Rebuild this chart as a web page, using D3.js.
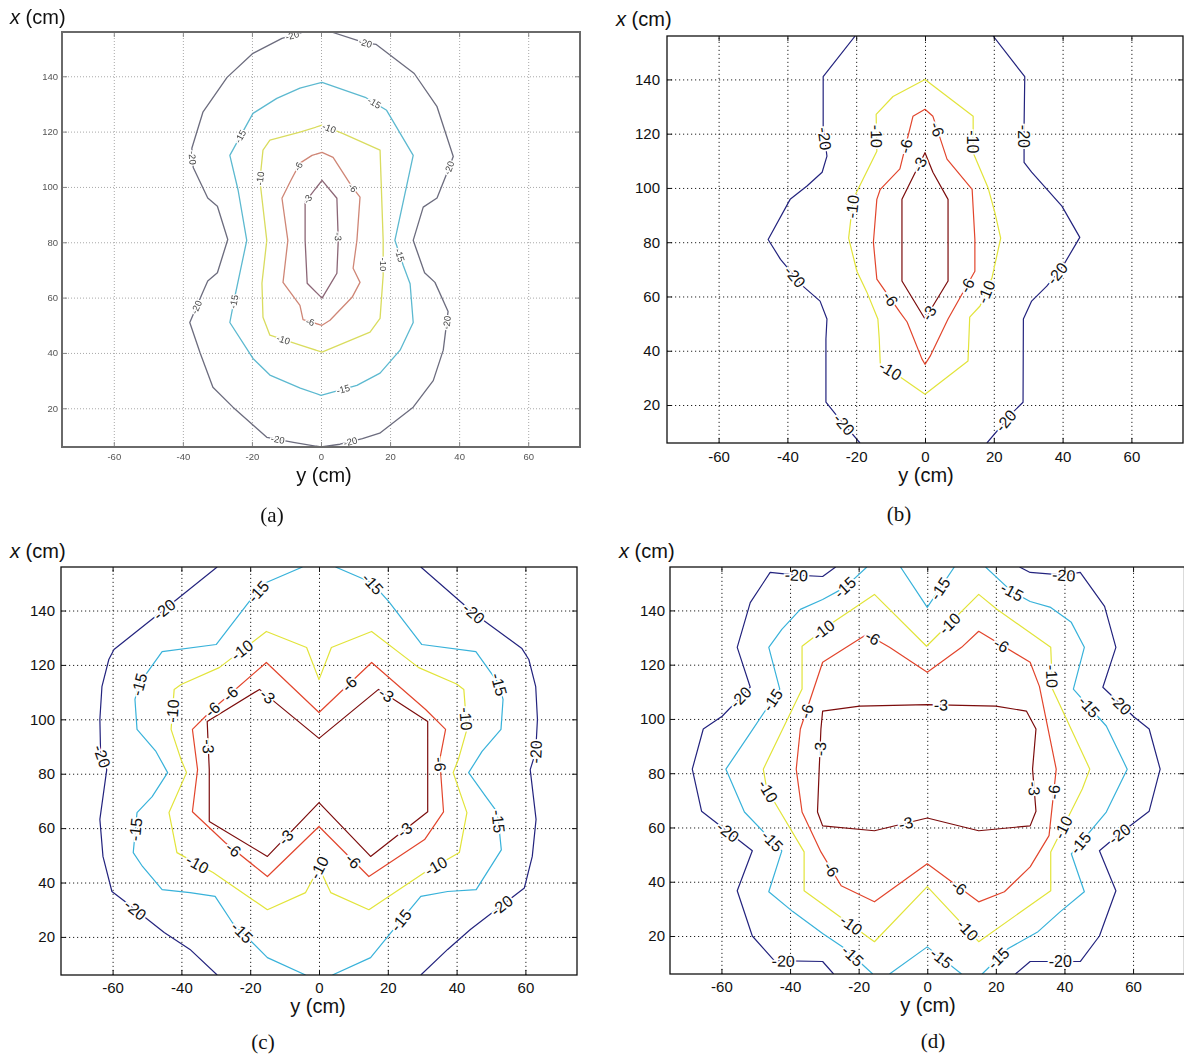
<!DOCTYPE html>
<html>
<head>
<meta charset="utf-8">
<script src="https://cdn.jsdelivr.net/npm/d3@7"></script>
<style>
  body { margin: 0; background: #fff; }
</style>
</head>
<body>
<svg id="fig" width="1184" height="1056"></svg>
<script>
// ---------- shared axes ----------
const hDomain = [-75, 75];          // y (cm), horizontal
const vDomain = [6, 156];           // x (cm), vertical
const yTicks = [-60, -40, -20, 0, 20, 40, 60];
const xTicks = [20, 40, 60, 80, 100, 120, 140];

// ---------- panel (a): contour polylines, [y, x] ----------
const aC20 = [[3,156],[13,152],[16,151.5],[27,141],[33.6,129],[38.3,111],[36.8,106],[33.6,96],[29.6,92.7],[26.7,80.7],[30,69],[33,65.5],[36.8,55],[35.4,41],[32.5,30],[26.7,20.4],[17,11],[12,9],[5.5,7],[0,6],[-8,7.7],[-15.7,9.5],[-25.5,20.4],[-31.3,27.6],[-35,40],[-38,51],[-34.2,62],[-32.8,66],[-30,69],[-27,81],[-30,93],[-32.8,96],[-37,107],[-37.4,114],[-34.2,127],[-27.2,139.6],[-19.7,148.3],[-11.3,153.7],[-5,156]];
const aC15 = [[0.3,137.8],[12.8,132.4],[19,127.7],[26.7,111.4],[21.4,80.7],[23.8,71.7],[25.8,65],[26.7,51],[22.9,41],[17.1,32.7],[10.4,28.3],[0,24.7],[-6,27.3],[-14.8,32],[-19.7,38],[-26.4,51],[-25,60],[-21.5,80.7],[-24,98.8],[-26.4,111.4],[-19.7,126.6],[-12.8,132],[-6.1,135.7]];
const aC10 = [[0.3,122.3],[6.4,119.3],[17.1,113.3],[18,80.7],[18,68],[17.1,52.5],[14.2,47.5],[0.3,40.3],[-6,42.8],[-14.8,46.4],[-16.8,52.9],[-17.1,65.2],[-15.7,80.7],[-17.7,102.4],[-16.8,113.3],[-14.8,116.9],[-6.1,119.8]];
const aC6 = [[0.3,112.5],[3.5,110.7],[9,100],[11.3,96.3],[10.4,80.7],[9.3,70.6],[11.3,65.5],[9,60.1],[2.6,51.8],[0.3,50],[-5.2,52],[-6.1,57.2],[-11,65.5],[-9.6,80.7],[-11.3,95.9],[-9,101.7],[-6.1,108.6],[-2.6,111.4]];
const aC3 = [[0.3,102.4],[4.6,95.9],[5,80.7],[4.6,68.8],[0.3,59.8],[-4,65.2],[-4.6,80.7],[-4.6,94.5]];
// labels: [level, y, x]
const aLabels = [[-20,-8.4,155],[-20,12.8,152],[-20,36.8,107],[-20,36.3,51],[-20,8.5,8],[-20,-12.5,9],[-20,-36,56.5],[-20,-37.5,110.5],
  [-15,15,129.5],[-15,22,75],[-15,6.4,27],[-15,-25,58.5],[-15,-23,118],
  [-10,2.3,121],[-10,16.5,72],[-10,-11,44.6],[-10,-17.3,103],
  [-6,-5.5,106.7],[-6,9,99.5],[-6,-3.2,51],[-3,-4.3,96],[-3,4.4,82]];

// ---------- panel (b) ----------
const bC20L = [[-20.3,156],[-29.6,141],[-29.6,122.7],[-28.5,111.7],[-29.9,105.8],[-34.3,100.7],[-39.2,95.8],[-45.6,81],[-42,73.7],[-35.5,63.8],[-30.5,58.3],[-28.5,51.7],[-28.8,44.3],[-28.8,21.1],[-25.6,16],[-18.9,6]];
const bC20R = [[19.8,156],[29,141],[28.8,122.7],[28.8,109.4],[31,105.8],[39.8,93.3],[45,81.8],[40,71],[35.4,63.8],[31,58.3],[28.6,51.7],[28.5,21],[25.6,17.4],[18,6]];
const bC10 = [[0,140],[14,126.4],[14,113],[18.3,100.2],[20.3,91],[22,81.5],[19.5,67],[16,56.5],[13,52.4],[12.5,36.2],[0,24],[-9.3,32.2],[-13,35],[-13.3,44.3],[-13.7,51.7],[-16.9,61.6],[-19.8,69.3],[-22.2,81.5],[-20.9,95.8],[-14,113.5],[-14.2,127.1],[-9.3,133.7]];
const bC6 = [[0,129],[-3.5,126.4],[-7.3,107],[-13,99.5],[-14,95.8],[-15,80],[-14,66.4],[-7.3,54.2],[-5.2,50.6],[-0.9,37],[0,35],[1.5,38],[6.7,51.7],[14.5,69.3],[14.5,81],[13.7,99.5],[6.4,110.6],[2.3,126.4]];
const bC3 = [[0,113],[-6.7,95.8],[-6.7,65.7],[0,51.7],[6.7,65.7],[6.7,95.8],[2.3,105.8]];
const bLabels = [[-20,-30,118],[-20,-38.7,66.4],[-20,-24.1,12.3],[-20,29.6,119],[-20,38.4,68.5],[-20,23.8,13.8],
  [-10,14.5,117],[-10,18,61.6],[-10,-10.2,32.5],[-10,-20.3,93],[-10,-15.4,119],
  [-6,-5.2,115.3],[-6,3.5,121.6],[-6,-11,58.3],[-6,12.5,63.8],[-3,-0.5,108],[-3,1,54]];

// ---------- panel (c) ----------
const cC20L = [[-29.6,156],[-45,140.4],[-59.6,125.7],[-61.1,122],[-63.1,112],[-63.7,100],[-63.5,88],[-61.7,81.5],[-63.7,63.2],[-62.8,49.6],[-60.2,36.7],[-56.4,33],[-45,21.6],[-37.5,15.4],[-29.6,6]];
const cC20R = [[29.6,156],[45,139],[59,126],[61,122],[63,112],[63.5,100],[63,88],[61.4,81.5],[63.1,63.2],[62,49.6],[59.7,38],[56.4,34.8],[44,22.7],[37.4,15.4],[29.6,6]];
const cC15L = [[-4.8,156],[-15.3,150.3],[-20.3,143.3],[-29.9,127.5],[-45.6,124.9],[-52.3,113],[-53.5,107.3],[-52.9,96.3],[-47.4,88.2],[-44,80.4],[-48.5,71.6],[-52.9,65.7],[-54,51],[-51.3,45.9],[-45.6,37.4],[-37.5,36.3],[-30.2,34.9],[-25.2,25.3],[-15,12.4],[-3.9,6]];
const cC15R = [[4.8,156],[15.3,150.3],[20.3,143.3],[29.9,127.5],[45.6,124.9],[52.3,113],[53.5,107.3],[52.9,96.3],[47.4,88.2],[43.5,80.4],[48.5,71.6],[51.9,65.7],[53,52],[45.7,37.4],[37.4,36.7],[29.6,34.9],[24,26.4],[15,12.4],[3.9,6]];
const cC10 = [[-15.3,132.3],[-29,119],[-40.1,112.8],[-42.1,111],[-43,96.3],[-40.1,85.2],[-38.5,80.4],[-43.6,65.7],[-41.3,51],[-30.8,43.7],[-15,30],[-3.9,36.3],[0,45.5],[3.4,36.3],[14.5,30],[30.7,43.7],[40.8,51],[43,65.7],[39,80.4],[40.5,85.2],[43,96.3],[42.1,111],[40,113],[29,119],[15.3,132.3],[3.6,126.4],[0,114.6],[-3.6,126.4]];
const cC6 = [[-15.3,120.9],[-31,103.6],[-36.8,96.3],[-35.3,81.5],[-36.8,66],[-27.3,54.7],[-15,42.2],[0,60.6],[14.5,42.2],[30.7,55.8],[36.2,66],[35.1,85.2],[36.8,96.3],[31,103.6],[15.3,120.9],[0,102.5]];
const cC3 = [[-17.3,111],[-32.5,99.2],[-31.9,81.5],[-31.9,62.4],[-15,49.6],[0,69.4],[15,49.6],[31.6,66],[31.6,85.2],[31.6,99.2],[17.3,111],[0,93]];
const cLabels = [[-20,-45,140.4],[-20,-64,86],[-20,-54,29],[-20,45,139],[-20,63.5,88],[-20,54,30],
  [-15,-16.8,146],[-15,-52.3,112.8],[-15,-52.9,59.5],[-15,-22.9,21],[-15,14,148],[-15,52.3,112.8],[-15,51.9,62.4],[-15,24.6,25.3],
  [-10,-21.4,123.8],[-10,-42.1,103],[-10,-35.1,47.4],[-10,0.5,49],[-10,33.4,47.4],[-10,41,100],
  [-6,-26.1,109.9],[-6,-31,103.6],[-6,-26.1,50.3],[-6,9.5,47.4],[-6,8.9,112.8],[-6,34.5,83.4],
  [-3,-14,110],[-3,-32.8,90],[-3,-10,57],[-3,25.2,58.8],[-3,18.5,107]];

// ---------- panel (d) ----------
const dC20L = [[-26.7,156],[-30.5,152.5],[-38.2,153],[-45.8,154],[-51.6,142.9],[-55.4,126.4],[-51.6,111.7],[-59.8,101],[-65.3,96.3],[-68.5,81.5],[-65.8,66],[-58.1,58.4],[-51,51.4],[-55.4,36.7],[-51,20],[-44.6,10.9],[-30.5,10.6],[-27.3,6]];
const dC20R = [[26.9,156],[30,154],[39.8,153],[44.6,154],[51.7,141.5],[55,126.4],[51.2,111.7],[60.3,100.7],[64.7,96.3],[67.9,81.5],[64.7,66],[56,57.6],[50.2,51.4],[55,36.7],[50.2,20],[44.6,10.6],[30,10.6],[25.7,6]];
const dC15L = [[-17.6,156],[-24,148.5],[-30.5,144],[-37,140.4],[-42.4,133],[-46.2,126.4],[-43,111],[-52.2,93.7],[-58.7,81.5],[-53.3,65.7],[-42.4,51.4],[-46.2,36.3],[-39.2,29],[-30.5,20.9],[-24,15.4],[-15.9,6]];
const dC15T = [[-7.8,156],[0,141.1],[7.9,156]];
const dC15R = [[17,156],[24.6,147],[30,143.3],[36,141.1],[42,135.6],[45.8,126.4],[42.6,111],[52.2,97.4],[58.3,81.5],[52.2,65.7],[42,50.3],[45.8,36.3],[38.8,29],[32.3,21.6],[23.6,15.4],[16,6]];
const dC15B = [[-11,6],[0,16],[10,6]];
const dC10 = [[-15.4,145.9],[-0.2,126.8],[15,145.9],[20.3,140.4],[36,126.4],[36.5,111],[47.4,81.5],[45.2,74.2],[36,51],[36,36.7],[15,17.9],[0,38.2],[-15.4,17.9],[-35.9,36.7],[-35.9,51],[-46.8,74.2],[-47.8,81.5],[-36.5,111],[-36.5,126.8],[-27,136]];
const dC6 = [[-17.6,131.2],[-11,126.4],[0,117.2],[10,126.4],[15,132.3],[30,120.9],[32.7,112],[37.6,81.5],[35.5,57],[30,45.5],[22.5,36.3],[15,32.6],[0,46.6],[-15.4,32.6],[-25.1,38.5],[-31,51],[-36.5,65.7],[-38.2,81.5],[-37,96.3],[-30.5,120.9]];
const dC3 = [[-30.5,102.9],[-19.7,104.7],[0,105.3],[20,104.7],[28.9,102.9],[31.7,96.3],[30.7,81.5],[31.7,66],[30,60.6],[15,58.8],[0,63.5],[-15.4,58.8],[-30.5,60.6],[-32,65.7],[-31.5,81.5],[-31,96.3]];
const dLabels = [[-20,-38.2,152.5],[-20,-53.9,107.3],[-20,-58.1,58.4],[-20,-42,10],[-20,39.8,152.5],[-20,55.5,104.3],[-20,56,57.6],[-20,38.8,10.6],
  [-15,-24,148.5],[-15,-44.6,106.5],[-15,-45.2,55],[-15,-22.5,11.7],[-15,4.1,147.7],[-15,24.6,146.6],[-15,45.8,102.9],[-15,44,55],[-15,20.8,11.7],[-15,3.6,11],
  [-10,-30,132.3],[-10,6.8,134.8],[-10,37,115.7],[-10,40.4,59.5],[-10,11.2,21.6],[-10,-23,22.7],[-10,-46.2,73.5],
  [-6,-15.9,130],[-6,21.4,126.8],[-6,37.6,73],[-6,9,37.4],[-6,-30,43],[-6,-34.4,102.5],
  [-3,4,104.5],[-3,30,74.2],[-3,-6.2,61.3],[-3,-32.7,89]];

// =========================
// STYLES
// =========================
const styleA = {
  colors: { "-20": "#6c6c7e", "-15": "#5cb9d0", "-10": "#d9dc5e", "-6": "#cf8676", "-3": "#8c6676" },
  lw: 1.3, tickSize: 9.5, tickFamily: "'Liberation Sans Narrow', 'Liberation Sans', Arial, sans-serif",
  tickFill: "#555", labelSize: 9.5, labelFill: "#444", halo: 2.5,
  grid: "#a8a8a8", gridDash: "1,2", frame: "#6a6a6a", frameW: 2, tickColor: "#888", blur: true
};
const styleB = {
  colors: { "-20": "#23237e", "-15": "#38b2da", "-10": "#e2e43a", "-6": "#e2452c", "-3": "#7c0c0c" },
  lw: 1.2, tickSize: 15, tickFamily: "'Liberation Sans', Arial, sans-serif",
  tickFill: "#111", labelSize: 16, labelFill: "#111", halo: 3.5,
  grid: "#222", gridDash: "1.2,2.8", frame: "#111", frameW: 1.3, tickColor: "#111", blur: false
};

const svg = d3.select("#fig");
const defs = svg.append("defs");
defs.append("filter").attr("id", "soft")
  .append("feGaussianBlur").attr("stdDeviation", 0.4);

const panels = [
  { id: "a", left: 62, right: 580, top: 32, bottom: 447, S: styleA, padX: 6, padY: 4,
    contours: [[-20, aC20, true], [-15, aC15, true], [-10, aC10, true], [-6, aC6, true], [-3, aC3, true]],
    labels: aLabels, xt: [10, 24], yt: [324, 482], tag: [272, 522, "(a)"] },
  { id: "b", left: 667, right: 1183, top: 36, bottom: 443, S: styleB, padX: 8, padY: 7,
    contours: [[-20, bC20L, false], [-20, bC20R, false], [-10, bC10, true], [-6, bC6, true], [-3, bC3, true]],
    labels: bLabels, xt: [616, 26], yt: [926, 482], tag: [899, 521, "(b)"] },
  { id: "c", left: 61, right: 577, top: 567, bottom: 975, S: styleB, padX: 7, padY: 6,
    contours: [[-20, cC20L, false], [-20, cC20R, false], [-15, cC15L, false], [-15, cC15R, false],
               [-10, cC10, true], [-6, cC6, true], [-3, cC3, true]],
    labels: cLabels, xt: [10, 558], yt: [318, 1013], tag: [263, 1049, "(c)"] },
  { id: "d", left: 670, right: 1184.5, top: 567, bottom: 974, S: styleB, padX: 7, padY: 5,
    contours: [[-20, dC20L, false], [-20, dC20R, false], [-15, dC15L, false], [-15, dC15T, false],
               [-15, dC15R, false], [-15, dC15B, false], [-10, dC10, true], [-6, dC6, true], [-3, dC3, true]],
    labels: dLabels, xt: [619, 558], yt: [928, 1012], tag: [933, 1048, "(d)"] }
];

panels.forEach(drawPanel);

function drawPanel(p) {
  const S = p.S;
  const g = svg.append("g").attr("class", "panel-" + p.id);
  if (S.blur) g.attr("filter", "url(#soft)");

  const sx = d3.scaleLinear().domain(hDomain).range([p.left, p.right]);
  const sy = d3.scaleLinear().domain(vDomain).range([p.bottom, p.top]);
  const W = p.right - p.left, H = p.bottom - p.top;

  // =========================
  // GRID
  // =========================
  const grid = g.append("g");
  grid.append("g").attr("transform", `translate(0,${p.bottom})`)
    .call(d3.axisBottom(sx).tickValues(yTicks).tickSize(-H).tickFormat(""));
  grid.append("g").attr("transform", `translate(${p.left},0)`)
    .call(d3.axisLeft(sy).tickValues(xTicks).tickSize(-W).tickFormat(""));
  grid.selectAll(".domain").remove();
  grid.selectAll("line")
    .attr("stroke", S.grid).attr("stroke-width", 1).attr("stroke-dasharray", S.gridDash);

  // =========================
  // CONTOURS
  // =========================
  defs.append("clipPath").attr("id", "clip-" + p.id)
    .append("rect").attr("x", p.left).attr("y", p.top).attr("width", W).attr("height", H);
  const plot = g.append("g").attr("clip-path", `url(#clip-${p.id})`);

  p.contours.forEach(([lvl, pts, closed]) => {
    const line = d3.line().x(d => sx(d[0])).y(d => sy(d[1]))
      .curve(closed ? d3.curveLinearClosed : d3.curveLinear);
    plot.append("path")
      .attr("d", line(pts))
      .attr("fill", "none")
      .attr("stroke", S.colors[lvl])
      .attr("stroke-width", S.lw)
      .attr("stroke-linejoin", "round");
  });

  // =========================
  // CONTOUR LABELS (snapped onto their line, rotated along it)
  // =========================
  const labG = g.append("g");
  p.labels.forEach(([lvl, h, v]) => {
    const px = sx(h), py = sy(v);
    let best = null;
    p.contours.filter(c => c[0] === lvl).forEach(([, pts, closed]) => {
      const n = pts.length, m = closed ? n : n - 1;
      for (let i = 0; i < m; i++) {
        const a = pts[i], b = pts[(i + 1) % n];
        const ax = sx(a[0]), ay = sy(a[1]), bx = sx(b[0]), by = sy(b[1]);
        const dx = bx - ax, dy = by - ay, L2 = dx * dx + dy * dy;
        let t = L2 ? ((px - ax) * dx + (py - ay) * dy) / L2 : 0;
        t = Math.max(0, Math.min(1, t));
        const qx = ax + t * dx, qy = ay + t * dy;
        const d2 = (px - qx) ** 2 + (py - qy) ** 2;
        if (!best || d2 < best.d2) best = { d2, qx, qy, ang: Math.atan2(dy, dx) * 180 / Math.PI };
      }
    });
    if (!best) return;
    let ang = best.ang;
    if (ang > 90) ang -= 180;
    if (ang < -90) ang += 180;
    labG.append("text")
      .attr("transform", `translate(${best.qx},${best.qy}) rotate(${ang})`)
      .attr("text-anchor", "middle")
      .attr("dy", "0.36em")
      .attr("font-family", S.tickFamily)
      .attr("font-size", S.labelSize)
      .attr("fill", S.labelFill)
      .attr("stroke", "#fff")
      .attr("stroke-width", S.halo)
      .attr("paint-order", "stroke")
      .text(String(lvl));
  });

  // =========================
  // AXES (inward ticks on all four sides)
  // =========================
  const fmt = d => String(d);
  const axes = g.append("g");
  axes.append("g").attr("transform", `translate(0,${p.bottom})`)
    .call(d3.axisBottom(sx).tickValues(yTicks).tickSize(-5).tickPadding(p.padX).tickFormat(fmt));
  axes.append("g").attr("transform", `translate(${p.left},0)`)
    .call(d3.axisLeft(sy).tickValues(xTicks).tickSize(-5).tickPadding(p.padY).tickFormat(fmt));
  axes.append("g").attr("transform", `translate(0,${p.top})`)
    .call(d3.axisTop(sx).tickValues(yTicks).tickSize(-5).tickFormat(""));
  axes.append("g").attr("transform", `translate(${p.right},0)`)
    .call(d3.axisRight(sy).tickValues(xTicks).tickSize(-5).tickFormat(""));
  axes.selectAll(".domain").remove();
  axes.selectAll("line").attr("stroke", S.tickColor).attr("stroke-width", 1);
  axes.selectAll("text")
    .attr("font-family", S.tickFamily)
    .attr("font-size", S.tickSize)
    .attr("fill", S.tickFill);

  g.append("rect")
    .attr("x", p.left).attr("y", p.top).attr("width", W).attr("height", H)
    .attr("fill", "none").attr("stroke", S.frame).attr("stroke-width", S.frameW);

  // =========================
  // TITLES
  // =========================
  const xt = svg.append("text")
    .attr("x", p.xt[0]).attr("y", p.xt[1])
    .attr("font-family", "'Liberation Sans', Arial, sans-serif")
    .attr("font-size", 20).attr("fill", "#111");
  xt.append("tspan").attr("font-style", "italic").text("x");
  xt.append("tspan").text(" (cm)");

  svg.append("text")
    .attr("x", p.yt[0]).attr("y", p.yt[1])
    .attr("text-anchor", "middle")
    .attr("font-family", "'Liberation Sans', Arial, sans-serif")
    .attr("font-size", 20).attr("fill", "#111")
    .text("y (cm)");

  svg.append("text")
    .attr("x", p.tag[0]).attr("y", p.tag[1])
    .attr("text-anchor", "middle")
    .attr("font-family", "'Liberation Serif', 'Times New Roman', serif")
    .attr("font-size", 21).attr("fill", "#111")
    .text(p.tag[2]);
}
</script>
</body>
</html>
